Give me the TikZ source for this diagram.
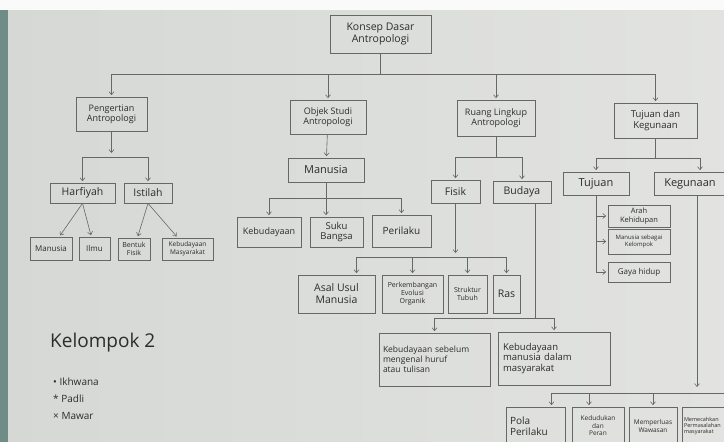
\documentclass[tikz,border=0pt]{standalone}
\usepackage{fontspec}
\setmainfont{Open Sans}
\usetikzlibrary{arrows.meta,calc}
\definecolor{paperL}{HTML}{D5D8D5}
\definecolor{paperR}{HTML}{E2E3E0}
\definecolor{pencil}{HTML}{676767}
\definecolor{ink}{HTML}{2C2C2C}
\definecolor{edge}{HTML}{6F8C86}
\newcommand{\fs}[1]{\fontsize{#1}{#1}\selectfont\setlength{\baselineskip}{1.15\baselineskip}}
\tikzset{
  box/.style={draw=pencil, line width=0.7pt, inner sep=1pt, align=center, text=ink},
  lbox/.style={box, align=left, text width=#1},
  ln/.style={draw=pencil, line width=0.6pt},
  arr/.style={ln, -{Straight Barb[length=3pt,width=5pt]}, shorten >=1.5pt},
  note/.style={text=ink, anchor=west, inner sep=0pt}
}
\begin{document}
\begin{tikzpicture}[x=1pt,y=-1pt]
\useasboundingbox (0,0) rectangle (724,442);
\begin{scope}
\clip (0,0) rectangle (724,442);
% paper
\shade[left color=paperL, right color=paperR] (0,10) rectangle (724,442);
\fill[white!96!gray] (0,0) rectangle (724,10);
\fill[edge] (0,10) rectangle (8,442);

% level 0
\node[box, minimum width=101pt, minimum height=38pt, font=\fs{10.5}] (konsep) at (380.5,34) {Konsep Dasar\\Antropologi};
% level 1
\node[box, minimum width=71pt, minimum height=34pt, font=\fs{9}] (peng) at (111.5,114) {Pengertian\\Antropologi};
\node[box, minimum width=76pt, minimum height=34pt, font=\fs{9}] (objek) at (328,117) {Objek Studi\\Antropologi};
\node[box, minimum width=78pt, minimum height=36pt, font=\fs{9}] (ruang) at (496,118) {Ruang Lingkup\\Antropologi};
\node[box, minimum width=83pt, minimum height=35pt, font=\fs{9.5}] (tujkeg) at (655.5,120.5) {Tujuan dan\\Kegunaan};

% Pengertian branch
\node[box, minimum width=65pt, minimum height=20pt, font=\fs{10.5}] (harf) at (82.5,193) {Harfiyah};
\node[box, minimum width=48pt, minimum height=20pt, font=\fs{10.5}] (istilah) at (148,193) {Istilah};
\node[box, minimum width=42pt, minimum height=23pt, font=\fs{8}] (manusiaA) at (51,248.5) {Manusia};
\node[box, minimum width=31pt, minimum height=23pt, font=\fs{8}] (ilmu) at (94.5,248.5) {Ilmu};
\node[box, minimum width=32pt, minimum height=22pt, font=\fs{7}] (bentuk) at (134,249) {Bentuk\\Fisik};
\node[box, minimum width=51pt, minimum height=22pt, font=\fs{6.5}] (kebmas) at (187.5,249) {Kebudayaan\\Masyarakat};

% Objek branch
\node[box, minimum width=76pt, minimum height=24pt, font=\fs{11}] (manusiaB) at (326,170) {Manusia};
\node[box, minimum width=64pt, minimum height=30pt, font=\fs{9}] (kebud) at (269,232) {Kebudayaan};
\node[box, minimum width=53pt, minimum height=30pt, font=\fs{9.5}] (suku) at (336.5,232) {Suku\\Bangsa};
\node[box, minimum width=59pt, minimum height=32pt, font=\fs{10}] (perilaku) at (401.5,231) {Perilaku};

% Ruang branch
\node[box, minimum width=49pt, minimum height=23pt, font=\fs{10.5}] (fisik) at (455.5,191.5) {Fisik};
\node[box, minimum width=58pt, minimum height=22pt, font=\fs{10.5}] (budaya) at (522,192) {Budaya};
\node[box, minimum width=77pt, minimum height=38pt, font=\fs{10.5}] (asal) at (336.5,294) {Asal Usul\\Manusia};
\node[box, minimum width=61pt, minimum height=38pt, font=\fs{7}] (perkem) at (412.5,294) {Perkembangan\\Evolusi\\Organik};
\node[box, minimum width=39pt, minimum height=38pt, font=\fs{7}] (struktur) at (467.5,294) {Struktur\\Tubuh};
\node[box, minimum width=27pt, minimum height=38pt, font=\fs{10.5}] (ras) at (506.5,294) {Ras};
\node[lbox=103pt, minimum height=53pt, font=\fs{8.5}, inner xsep=4pt] (kebseb) at (434.5,359.5) {Kebudayaan sebelum\\mengenal huruf\\atau tulisan\\[6pt]};
\node[lbox=102pt, minimum height=53pt, font=\fs{9.5}, inner xsep=5pt] (kebman) at (554,358.5) {Kebudayaan\\manusia dalam\\masyarakat\\[4pt]};

% Tujuan branch
\node[box, minimum width=66pt, minimum height=23pt, font=\fs{11}] (tujuan) at (596,183.5) {Tujuan};
\node[box, minimum width=72pt, minimum height=23pt, font=\fs{11}] (kegunaan) at (690,183.5) {Kegunaan};
\node[box, minimum width=62pt, minimum height=22pt, font=\fs{7.5}] (arah) at (639,216) {Arah\\Kehidupan};
\node[box, minimum width=62pt, minimum height=25pt, font=\fs{6}] (mansb) at (639,241.5) {Manusia sebagai\\Kelompok};
\node[box, minimum width=62pt, minimum height=20pt, font=\fs{8}] (gaya) at (639,272) {Gaya hidup};

% bottom row
\node[lbox=51pt, minimum height=38pt, font=\fs{10}, inner xsep=4pt] (pola) at (535.5,426) {Pola\\Perilaku};
\node[box, minimum width=52pt, minimum height=38pt, font=\fs{6.5}] (keduduk) at (598,426) {Kedudukan\\dan\\Peran};
\node[box, minimum width=48pt, minimum height=38pt, font=\fs{6.5}] (memper) at (653,426) {Memperluas\\Wawasan};
\node[lbox=54pt, minimum height=38pt, font=\fs{5.5}, inner xsep=2pt] (memec) at (711,426) {Memecahkan\\Permasalahan\\masyarakat\\[6pt]};

% group note
\node[note, font=\fs{19}] (kel) at (50,343) {Kelompok 2};
\node[note, font=\fs{10}] (m1) at (53,382) {\textbullet\ Ikhwana};
\node[note, font=\fs{10}] (m2) at (53,399) {* Padli};
\node[note, font=\fs{10}] (m3) at (53,416) {× Mawar};

% junctions
\coordinate (b1) at (380.5,74);
\coordinate (b2) at (111.5,157);
\coordinate (b3) at (326,198);
\coordinate (b4) at (496,157);
\coordinate (b5) at (455.5,257);
\coordinate (b6) at (535,318);
\coordinate (b7) at (655.5,158);
\coordinate (b8) at (697,393);
\coordinate (b9) at (724,393);

% connectors level 0 -> 1
\draw[ln] (konsep) -- (b1);
\draw[arr] (b1) -| (peng);
\draw[arr] (b1) -| (objek);
\draw[arr] (b1) -| (ruang);
\draw[arr] (b1) -| (tujkeg);

% Pengertian
\draw[arr, shorten >=4pt] (peng) -- (b2);
\draw[arr] (b2) -| (harf);
\draw[arr] (b2) -| (istilah);
\draw[arr] (harf.south) -- (manusiaA);
\draw[arr] (harf.south) -- (ilmu);
\draw[arr] (istilah.south) -- (bentuk);
\draw[arr] (istilah.south) -- (kebmas);

% Objek
\draw[arr] (objek) -- (manusiaB);
\draw[ln] (manusiaB) -- (b3);
\draw[arr] (b3) -| (kebud);
\draw[arr] (b3) -- (b3 |- suku.north);
\draw[arr] (b3) -| (perilaku);

% Ruang
\draw[ln] (ruang) -- (b4);
\draw[arr] (b4) -| (fisik);
\draw[arr] (b4) -| (budaya);
\draw[arr, shorten >=4pt] (fisik) -- (b5);
\draw[arr] (b5) -| ([xshift=20pt]asal.north);
\draw[arr] (b5) -| (perkem);
\draw[arr] (b5) -| (struktur);
\draw[arr] (b5) -| (ras);
\draw[ln] ([xshift=13pt]budaya.south) -- (b6);
\draw[arr] (b6) -| (kebseb);
\draw[arr] (b6) -| (kebman);

% Tujuan dan Kegunaan
\draw[ln] (tujkeg) -- (b7);
\draw[arr] (b7) -| (tujuan);
\draw[arr] (b7) -| ([xshift=10pt]kegunaan.north);
\draw[ln] (tujuan) -- (tujuan.south |- gaya);
\draw[arr] (tujuan.south |- arah) -- (arah);
\draw[arr] (tujuan.south |- mansb) -- (mansb);
\draw[arr] (tujuan.south |- gaya) -- (gaya);
\draw[arr, shorten >=6pt] ([xshift=7pt]kegunaan.south) -- (b8);
\draw[ln] ([xshift=16pt]pola.north |- b8) -- (b9);
\draw[arr] ([xshift=16pt]pola.north |- b8) -- ([xshift=16pt]pola.north);
\draw[arr] ([xshift=-9pt]keduduk.north |- b8) -- ([xshift=-9pt]keduduk.north);
\draw[arr] (memper.north |- b8) -- (memper.north);
\end{scope}
\end{tikzpicture}
\end{document}
